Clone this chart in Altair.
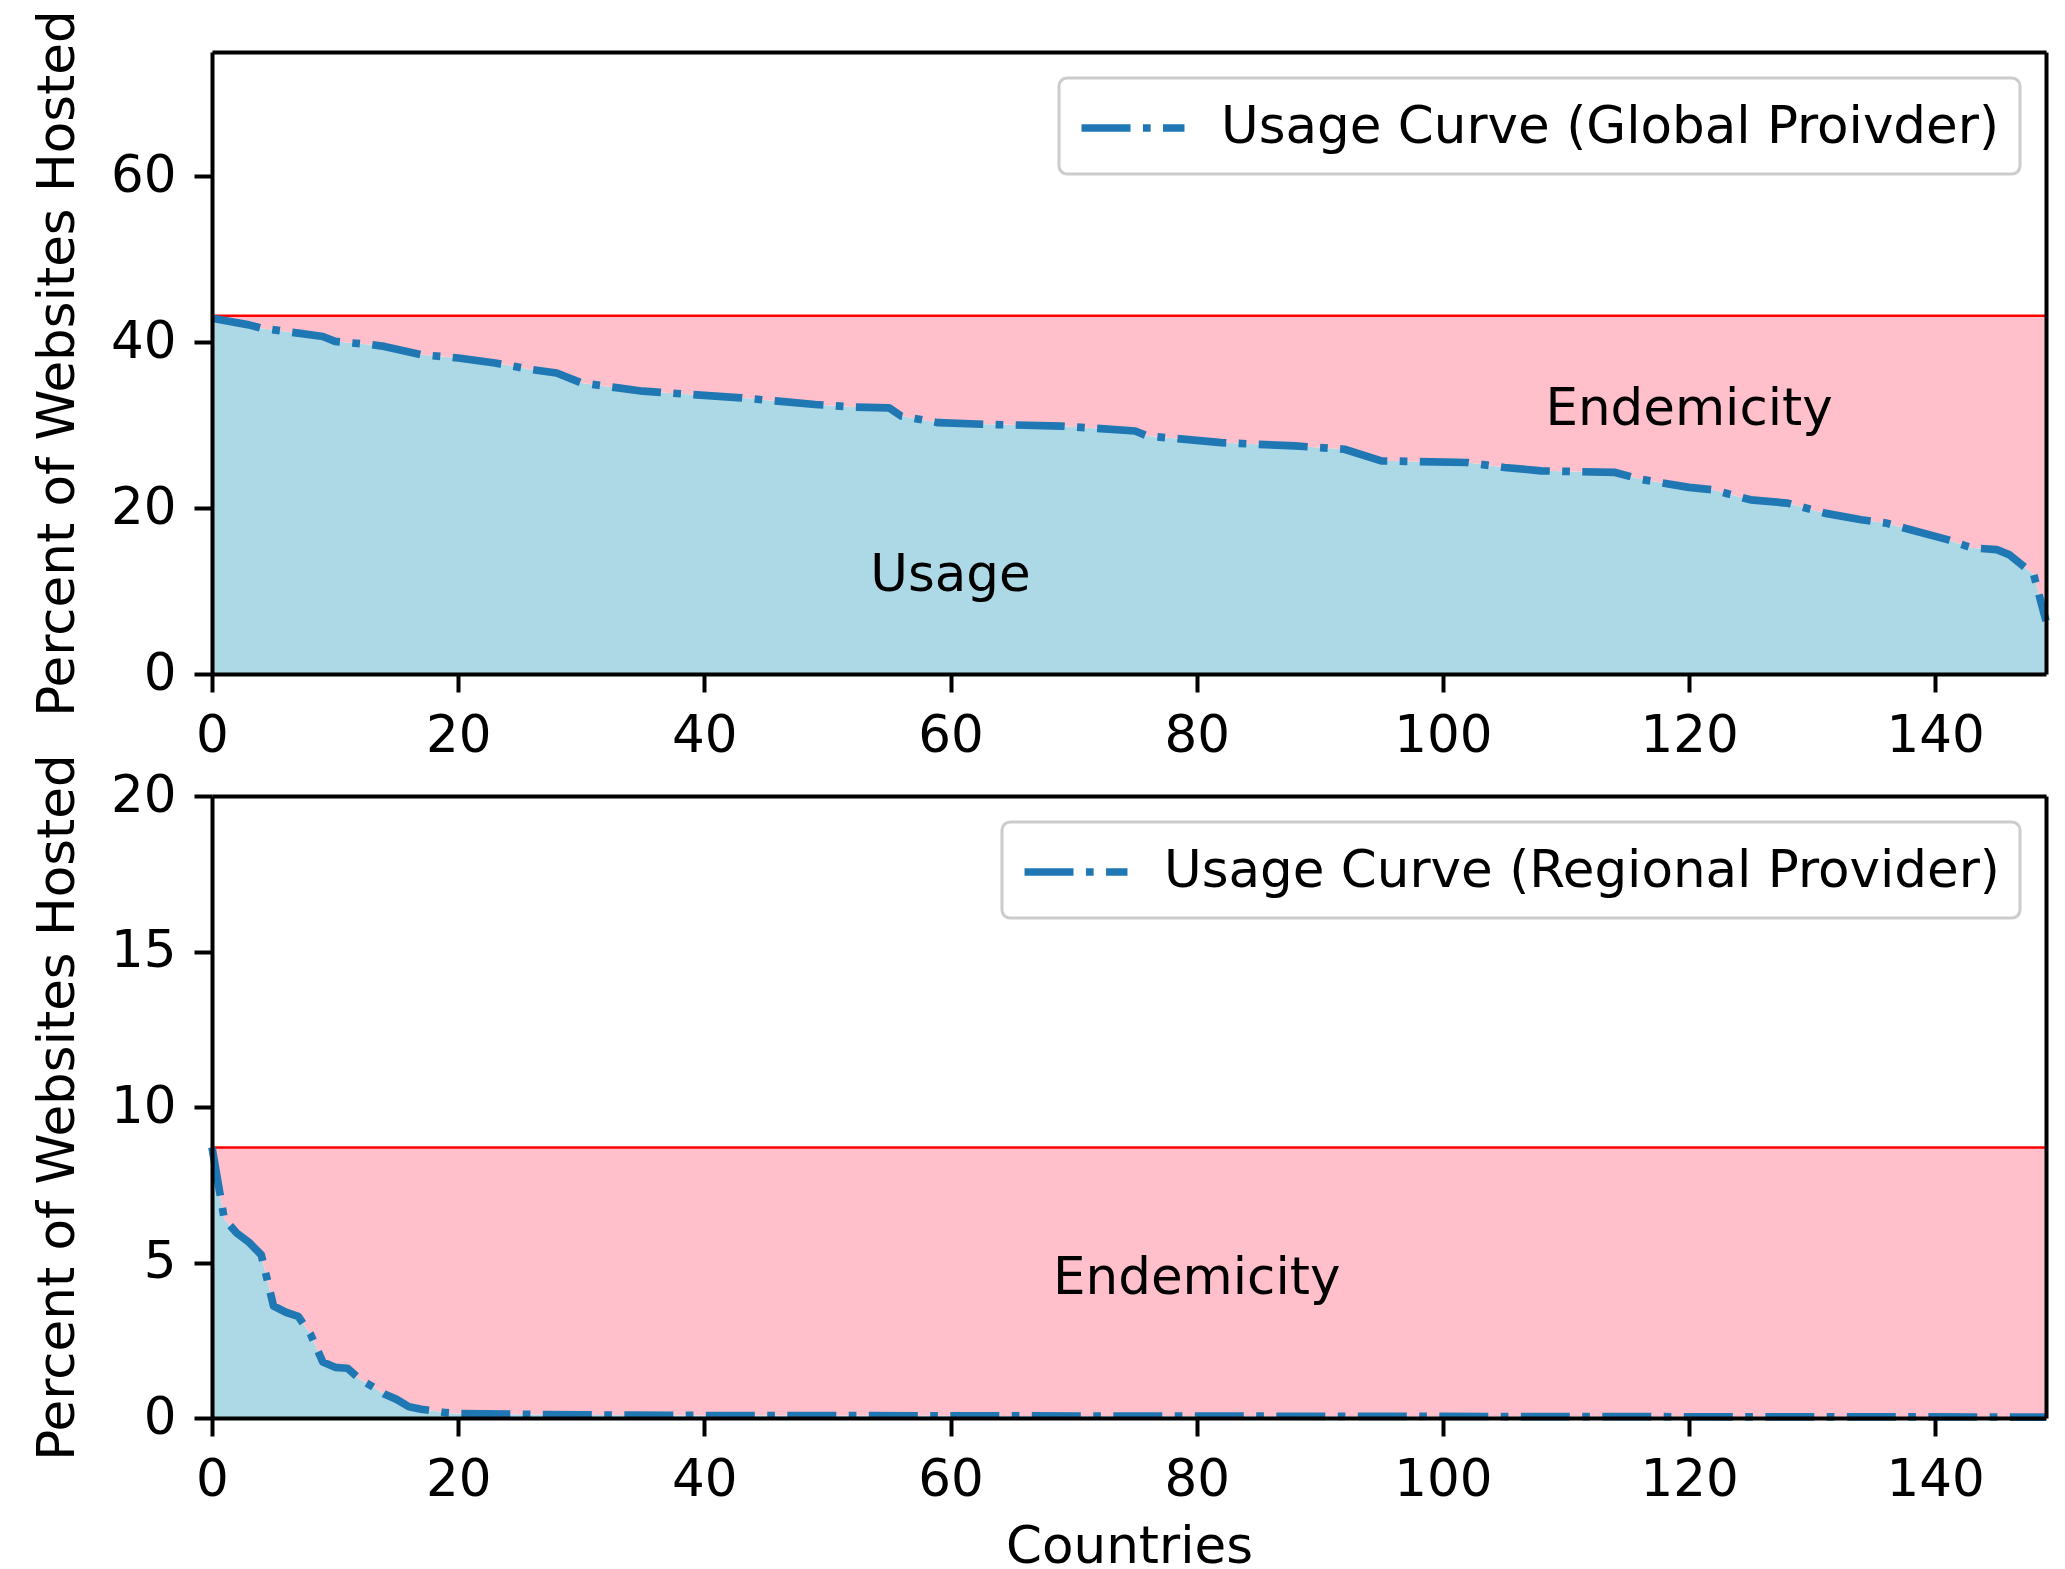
import altair as alt
import pandas as pd

FONT = "DejaVu Sans"
FS = 51.5

# ---- data ----
# Global provider usage curve (countries sorted by usage)
global_x = [0, 3, 4, 7, 9, 10, 13, 14, 17, 20, 23, 26, 28, 30, 33, 35, 39, 43, 46, 49,
            52, 55, 56, 59, 63, 69, 71, 75, 76, 82, 88, 92, 95, 102, 105, 108, 114, 116,
            120, 122, 125, 128, 131, 134, 136, 138, 141, 143, 145, 146, 148, 149]
global_y = [42.9, 42.1, 41.7, 41.1, 40.7, 40.1, 39.7, 39.5, 38.5, 38.1, 37.5, 36.7, 36.3,
            35.1, 34.5, 34.1, 33.7, 33.3, 32.9, 32.5, 32.2, 32.1, 31.1, 30.3, 30.1, 29.9,
            29.7, 29.3, 28.7, 27.9, 27.5, 27.1, 25.7, 25.5, 24.9, 24.5, 24.3, 23.5, 22.5,
            22.2, 21.0, 20.6, 19.4, 18.6, 18.2, 17.4, 16.2, 15.2, 15.0, 14.4, 12.0, 6.4]
global_level = 43.2

# Regional provider usage curve
regional_x = [0, 1, 2, 3, 4, 5, 6, 7, 8, 9, 10, 11, 12, 13, 14, 15, 16, 17, 18, 19, 20,
              25, 30, 40, 60, 80, 100, 120, 149]
regional_y = [8.7, 6.4, 5.95, 5.65, 5.25, 3.6, 3.4, 3.27, 2.7, 1.8, 1.63, 1.6, 1.25, 1.02,
              0.77, 0.6, 0.36, 0.28, 0.23, 0.17, 0.14, 0.12, 0.1, 0.08, 0.07, 0.06, 0.05,
              0.04, 0.03]
regional_level = 8.7

x_ticks = [0, 20, 40, 60, 80, 100, 120, 140]
top_y_ticks = [0, 20, 40, 60]
bottom_y_ticks = [0, 5, 10, 15, 20]

top_notes_x = [60, 120]
top_notes_y = [10, 30]
top_notes_label = ["Usage", "Endemicity"]
bottom_notes_x = [80]
bottom_notes_y = [4]
bottom_notes_label = ["Endemicity"]

LW = 7.7
DASH = [49, 12.4, 7.7, 12.4]
W, H = 1834, 622


def panel(xs, ys, level, ymax, yticks, series, nx, ny, nl, xtitle):
    df = pd.DataFrame({"x": xs, "v": ys, "level": [level] * len(xs), "series": [series] * len(xs)})
    notes = pd.DataFrame({"x": nx, "y": ny, "label": nl})
    base = alt.Chart(df)
    xs_ = alt.Scale(domain=[0, 149], nice=False, zero=False)
    ys_ = alt.Scale(domain=[0, ymax], nice=False)

    usage = base.mark_area(color="#add8e6", opacity=1).encode(
        x=alt.X("x:Q", scale=xs_, axis=alt.Axis(values=x_ticks, format="d", title=xtitle,
                                                 titlePadding=16, labelFlush=False, zindex=2)),
        y=alt.Y("v:Q", scale=ys_, axis=alt.Axis(values=yticks, format="d",
                                                 title="Percent of Websites Hosted",
                                                 titlePadding=26, labelFlush=False, zindex=2)),
    )
    endem = base.mark_area(color="#ffc0cb", opacity=1).encode(
        x=alt.X("x:Q", scale=xs_, axis=alt.Axis(orient="top", labels=False, ticks=False,
                                                 title=None, zindex=2)),
        y=alt.Y("v:Q", scale=ys_, axis=None),
        y2="level:Q",
    )
    rule = alt.Chart(pd.DataFrame({"level": [level]})).mark_rule(color="red", strokeWidth=2.5).encode(
        y=alt.Y("level:Q", scale=ys_, axis=alt.Axis(orient="right", labels=False, ticks=False,
                                                      title=None, zindex=2)),
    )
    line = base.mark_line(strokeWidth=LW, strokeDash=DASH, strokeJoin="round").encode(
        x=alt.X("x:Q", scale=xs_, axis=None),
        y=alt.Y("v:Q", scale=ys_, axis=None),
        stroke=alt.Stroke("series:N", scale=alt.Scale(range=["#1f77b4"]),
                          legend=alt.Legend(
                              title=None, orient="top-right", offset=26, padding=20,
                              fillColor="white", strokeColor="#cccccc",
                              cornerRadius=8, symbolType="M-2,0H2", symbolSize=2650,
                              symbolOffset=24, symbolStrokeWidth=LW, symbolDash=DASH,
                              labelFontSize=FS, labelFont=FONT, labelColor="black",
                              labelLimit=3000, labelOffset=58, labelBaseline="middle")),
    )
    text = alt.Chart(notes).mark_text(font=FONT, fontSize=FS, color="black",
                                      align="center", baseline="alphabetic").encode(
        x=alt.X("x:Q", scale=xs_, axis=None),
        y=alt.Y("y:Q", scale=ys_, axis=None),
        text="label:N",
    )
    return alt.layer(usage, endem, rule, line, text).resolve_axis(
        x="independent", y="independent").properties(width=W, height=H)


top = panel(global_x, global_y, global_level, 75, top_y_ticks,
            "Usage Curve (Global Proivder)", top_notes_x, top_notes_y, top_notes_label, None)
bottom = panel(regional_x, regional_y, regional_level, 20, bottom_y_ticks,
               "Usage Curve (Regional Provider)", bottom_notes_x, bottom_notes_y,
               bottom_notes_label, "Countries")

chart = alt.vconcat(top, bottom, spacing=122, bounds="flush").resolve_scale(
    x="independent", y="independent", stroke="independent"
).resolve_legend(stroke="independent").properties(
    padding={"left": 24, "top": 1, "right": 5, "bottom": 0}
).configure_view(stroke=None).configure_axis(
    grid=False, domainColor="black", domainWidth=4, tickColor="black", tickWidth=4,
    tickSize=18, labelPadding=18, labelFont=FONT, labelFontSize=FS, labelColor="black",
    titleFont=FONT, titleFontSize=FS, titleFontWeight="normal", titleColor="black",
).configure_legend(strokeWidth=3)

chart.save("out.html", embed_options={"renderer": "svg", "actions": False})
